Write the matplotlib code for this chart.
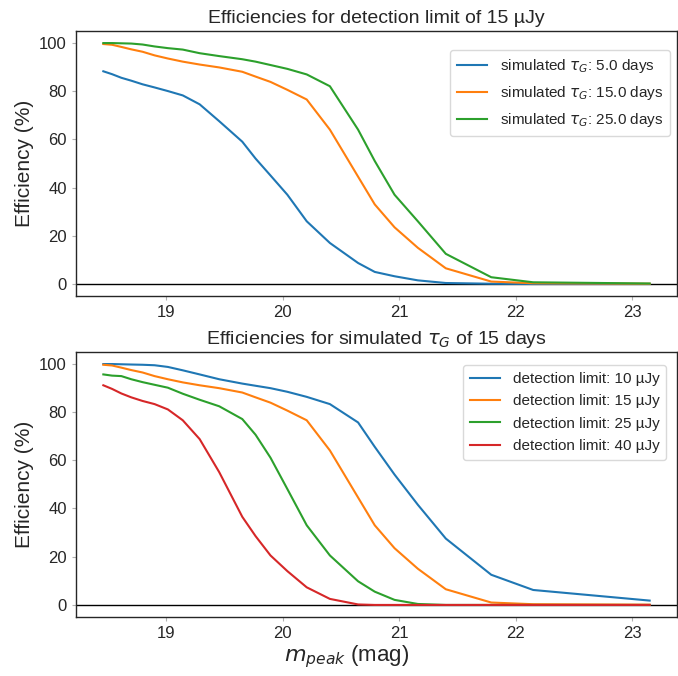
"""Detection efficiency vs. peak magnitude, two panels."""
import matplotlib

matplotlib.use("Agg")

import matplotlib.pyplot as plt

plt.rcParams["font.family"] = ["Liberation Sans", "DejaVu Sans"]
plt.rcParams["mathtext.fontset"] = "dejavusans"

# peak magnitude grid shared by every curve
m_peak = [18.46, 18.535, 18.615, 18.70, 18.797, 18.90, 19.014, 19.142,
          19.287, 19.455, 19.653, 19.767, 19.895, 20.04, 20.206, 20.405,
          20.647, 20.79, 20.96, 21.16, 21.40, 21.79, 22.15, 23.15]

# top panel: detection limit 15 uJy, varying simulated tau_G
tau_labels = ["5.0", "15.0", "25.0"]
eff_tau5 = [88.2, 87.0, 85.5, 84.3, 82.8, 81.5, 80.0, 78.2,
            74.5, 67.5, 59.0, 52.0, 45.0, 37.0, 26.0, 17.0,
            8.7, 5.0, 3.2, 1.5, 0.4, 0.1, 0.0, 0.0]
eff_tau15 = [99.5, 99.2, 98.3, 97.3, 96.3, 94.8, 93.5, 92.2,
             91.0, 89.8, 88.0, 86.0, 83.8, 80.5, 76.5, 64.0,
             44.5, 33.0, 23.5, 15.0, 6.5, 1.0, 0.3, 0.1]
eff_tau25 = [99.9, 99.9, 99.8, 99.7, 99.3, 98.5, 97.8, 97.2,
             95.7, 94.5, 93.2, 92.2, 90.8, 89.2, 86.9, 82.0,
             64.0, 51.0, 37.0, 26.0, 12.5, 2.8, 0.7, 0.2]

# bottom panel: tau_G = 15 days, varying detection limit
limit_labels = ["10", "15", "25", "40"]
eff_lim10 = [99.8, 99.8, 99.7, 99.6, 99.5, 99.3, 98.6, 97.2,
             95.5, 93.5, 91.7, 90.8, 89.8, 88.3, 86.2, 83.2,
             75.6, 65.5, 54.0, 41.5, 27.5, 12.5, 6.2, 1.8]
eff_lim15 = eff_tau15
eff_lim25 = [95.5, 95.0, 94.8, 93.5, 92.3, 91.2, 90.0, 87.5,
             85.0, 82.3, 77.0, 70.5, 61.0, 48.0, 33.0, 20.5,
             9.8, 5.5, 2.1, 0.4, 0.0, 0.0, 0.0, 0.0]
eff_lim40 = [91.0, 89.5, 87.6, 86.0, 84.5, 83.2, 81.0, 76.5,
             68.7, 55.0, 36.5, 28.5, 20.5, 14.0, 7.3, 2.5,
             0.2, 0.0, 0.0, 0.0, 0.0, 0.0, 0.0, 0.0]

COLORS = ["#1f77b4", "#ff7f0e", "#2ca02c", "#d62728"]
INK = "#262626"


def style_axes(ax):
    for spine in ax.spines.values():
        spine.set_color(INK)
        spine.set_linewidth(1.0)
    ax.tick_params(axis="both", labelsize=12, colors="#b0b0b0",
                   labelcolor=INK, length=3, width=0.8)
    ax.set_yticks([0, 20, 40, 60, 80, 100])
    ax.set_xticks([19, 20, 21, 22, 23])
    ax.axhline(0, color="black", linewidth=1.0, zorder=1)
    ax.set_ylabel("Efficiency (%)", fontsize=15, color=INK)


fig = plt.figure(figsize=(6.78, 6.76), dpi=100)
ax_top = fig.add_axes([0.1121, 0.5621, 0.8864, 0.392])
ax_bot = fig.add_axes([0.1121, 0.0873, 0.8864, 0.392])

for eff, tau, c in zip([eff_tau5, eff_tau15, eff_tau25], tau_labels, COLORS):
    ax_top.plot(m_peak, eff, color=c, linewidth=1.5, zorder=2,
                label=rf"simulated $\tau_G$: {tau} days")
style_axes(ax_top)
ax_top.set_title("Efficiencies for detection limit of 15 µJy",
                 fontsize=14, color=INK, pad=6)
ax_top.legend(loc="upper right", fontsize=11, borderpad=0.45,
              labelspacing=0.6, handlelength=2.0, labelcolor=INK,
              edgecolor="#d0d0d0", borderaxespad=0,
              bbox_to_anchor=(0.988, 0.928))

for eff, lim, c in zip([eff_lim10, eff_lim15, eff_lim25, eff_lim40],
                       limit_labels, COLORS):
    ax_bot.plot(m_peak, eff, color=c, linewidth=1.5, zorder=2,
                label=f"detection limit: {lim} µJy")
style_axes(ax_bot)
ax_bot.set_title(r"Efficiencies for simulated $\tau_G$ of 15 days",
                 fontsize=14, color=INK, pad=6)
ax_bot.set_xlabel(r"$m_{peak}$ (mag)", fontsize=16, color=INK)
ax_bot.xaxis.set_label_coords(0.451, -0.1)
ax_bot.legend(loc="upper right", fontsize=11, borderpad=0.45,
              labelspacing=0.55, handlelength=2.0, labelcolor=INK,
              edgecolor="#d0d0d0", borderaxespad=0,
              bbox_to_anchor=(0.982, 0.951))

fig.savefig("out.png", dpi=100)
